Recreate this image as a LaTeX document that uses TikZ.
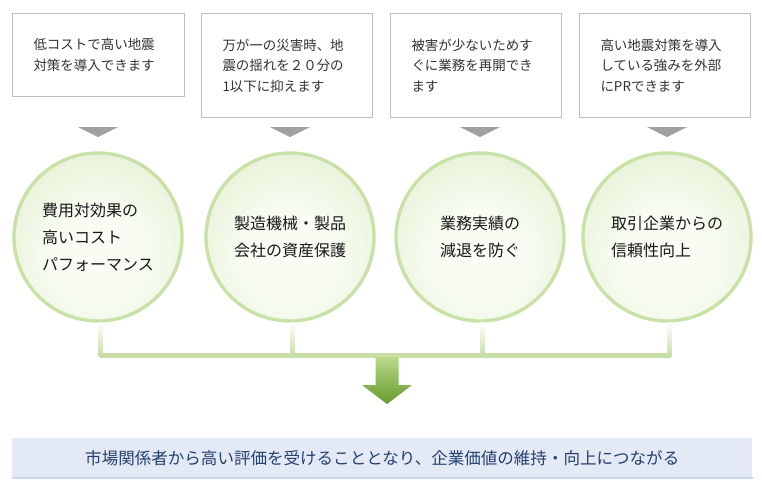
\documentclass[tikz,border=0pt]{standalone}
\usepackage{fontspec}
\newfontfamily\jp{Noto Sans CJK JP}
\usetikzlibrary{calc}
\definecolor{boxline}{HTML}{BDBDBD}
\definecolor{boxtext}{HTML}{333333}
\definecolor{trigray}{HTML}{A0A0A0}
\definecolor{ring}{HTML}{C8E1A6}
\definecolor{cin}{HTML}{F8FCF2}
\definecolor{cmid}{HTML}{E8F3D9}
\definecolor{cout}{HTML}{D0E7B2}
\definecolor{barg}{HTML}{C8DEA6}
\definecolor{arrtop}{HTML}{B9D98A}
\definecolor{arrbot}{HTML}{679A2B}
\definecolor{resfill}{HTML}{E3E9F5}
\definecolor{resline}{HTML}{CDD6E6}
\definecolor{restext}{HTML}{24406E}
\pgfdeclareradialshading{ballshade}{\pgfpoint{0bp}{-8bp}}{%
  color(0bp)=(cin); color(14bp)=(cin); color(30bp)=(cmid); color(46bp)=(cout); color(60bp)=(cout)}
\tikzset{
  infobox/.style={draw=boxline, line width=0.75pt, fill=white, anchor=north west,
    inner sep=0pt, text width=129*0.75pt, align=left, text=boxtext,
    font=\jp\fontsize{10.1}{15.4}\selectfont},
  ball/.style={circle, minimum size=168*0.75pt, inner sep=0pt, draw=ring,
    line width=2.5pt, shading=ballshade, align=left,
    text=black!90, font=\jp\fontsize{12}{20.3}\selectfont},
  tri/.style={fill=trigray, draw=none},
  stem/.style={top color=white, bottom color=barg, draw=none},
  result/.style={fill=resfill, draw=none, anchor=north west, minimum width=740*0.75pt,
    minimum height=39*0.75pt, inner sep=0pt, text=restext,
    font=\jp\fontsize{12.4}{14}\selectfont}
}
\begin{document}
\begin{tikzpicture}[x=0.75pt, y=-0.75pt]
\useasboundingbox (0,0) rectangle (762,487);
% top boxes
\node[infobox, minimum width=172*0.75pt, minimum height=83*0.75pt,
  text width=130*0.75pt] (b1) at (12,13) {低コストで高い地震\\対策を導入できます};
\node[infobox, minimum width=171*0.75pt, minimum height=104*0.75pt] (b2) at (201,13)
  {万が一の災害時、地\\震の揺れを２０分の\\1以下に抑えます};
\node[infobox, minimum width=171*0.75pt, minimum height=104*0.75pt] (b3) at (390,13)
  {被害が少ないためす\\ぐに業務を再開でき\\ます};
\node[infobox, minimum width=171*0.75pt, minimum height=104*0.75pt] (b4) at (579,13)
  {高い地震対策を導入\\している強みを外部\\にPRできます};
% circles
\node[ball] (c1) at (98,237) {費用対効果の\\高いコスト\\パフォーマンス};
\node[ball] (c2) at (290,237) {製造機械・製品\\会社の資産保護};
\node[ball] (c3) at (480,237) {業務実績の\\減退を防ぐ};
\node[ball] (c4) at (667,237) {取引企業からの\\信頼性向上};
% gray triangles between boxes and circles
\foreach \c in {c1,c2,c3,c4}{
  \path[tri] let \p1=(\c.north) in
    (\x1-20*0.75pt,127) -- (\x1+20*0.75pt,127) -- (\x1,137) -- cycle;
}
% stems from circles to bar
\foreach \c in {c1,c2,c3,c4}{
  \path[stem] let \p1=(\c.south) in
    (\x1+0.5*0.75pt,322) rectangle (\x1+4.5*0.75pt,356);
}
\coordinate (barL) at (100,355.5);
\coordinate (barR) at (671,355.5);
\draw[barg, line width=4.5*0.75pt] (barL) -- (barR);
% result box
\node[result] (res) at (12,438) {市場関係者から高い評価を受けることとなり、企業価値の維持・向上につながる};
\draw[resline, line width=1.5pt] (res.south west) -- (res.south east);
% green arrow from bar to result
\shade[top color=arrtop, bottom color=arrbot]
  (375.5,357) -- (398.5,357) -- (398.5,385) -- (412,385) -- (387,404)
  -- (362,385) -- (375.5,385) -- cycle;
\end{tikzpicture}
\end{document}
